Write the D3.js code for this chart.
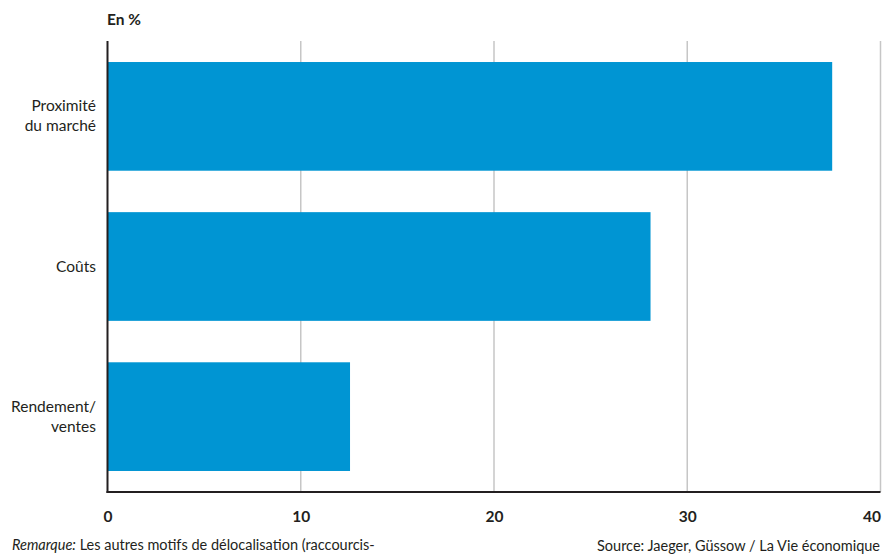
<!DOCTYPE html>
<html><head><meta charset="utf-8">
<script src="https://cdn.jsdelivr.net/npm/d3@7"></script>
<style>
body{margin:0;background:#fff;}
text{font-family:Lato,"Open Sans",sans-serif;fill:#231f20;}
</style></head>
<body><svg id="c" width="883" height="559"></svg>
<script>
const categories = [["Proximité","du marché"],["Coûts"],["Rendement/","ventes"]];
const values = [37.5, 28.1, 12.55];
const ticks = [0,10,20,30,40];
const unitLabel = "En %";
const noteLabel = "Remarque:";
const noteText = " Les autres motifs de délocalisation (raccourcis-";
const sourceText = "Source: Jaeger, Güssow / La Vie économique";

const svg = d3.select("#c");
const x = d3.scaleLinear().domain([0,40]).range([107.5,880.5]);
const y = d3.scaleBand().domain(d3.range(categories.length)).range([41,492]).paddingInner(0.276).paddingOuter(0.14);

// gridlines
svg.append("g").selectAll("line").data(ticks.filter(t=>t>0)).join("line")
  .attr("x1",d=>x(d)).attr("x2",d=>x(d)).attr("y1",41).attr("y2",492)
  .attr("stroke","#c6c6c6").attr("stroke-width",1.5);

// bars
svg.append("g").selectAll("rect").data(values).join("rect")
  .attr("x",x(0)).attr("y",(d,i)=>y(i)).attr("width",d=>x(d)-x(0)).attr("height",y.bandwidth())
  .attr("fill","#0095d3");

// axes lines
svg.append("line").attr("x1",x(0)).attr("x2",x(0)).attr("y1",41).attr("y2",493).attr("stroke","#231f20").attr("stroke-width",2);
svg.append("line").attr("x1",x(0)-1).attr("x2",x(40)).attr("y1",492).attr("y2",492).attr("stroke","#231f20").attr("stroke-width",2);

// tick labels
const xAxis = d3.axisBottom(x).tickValues(ticks).tickSize(0).tickPadding(0);
const gx = svg.append("g").attr("transform","translate(0,522)").call(xAxis);
gx.select(".domain").remove();
gx.selectAll("text").attr("dy",0).style("font-size","15.5px").style("font-weight","bold").style("font-family",null);
gx.selectAll(".tick").filter(d=>d===40).select("text").attr("text-anchor","end").attr("dx",0);

// category labels
const cl = svg.append("g").selectAll("text").data(categories).join("text")
  .attr("text-anchor","end").attr("font-size",15.5)
  .attr("y",(d,i)=>y(i)+y.bandwidth()/2);
cl.each(function(d){
  const t=d3.select(this);
  const n=d.length;
  d.forEach((s,k)=>{
    t.append("tspan").attr("x",96).attr("dy",k===0?((-(n-1)*20/2)+5)+"px":"20px").text(s);
  });
});

svg.append("text").attr("x",107).attr("y",25).attr("font-size",15.5).attr("font-weight","bold").text(unitLabel);

const note = svg.append("text").attr("x",12).attr("y",550).attr("font-size",14.5);
note.append("tspan").attr("font-style","italic").text(noteLabel);
note.append("tspan").text(noteText);
svg.append("text").attr("x",880).attr("y",551).attr("font-size",14.5).attr("text-anchor","end").text(sourceText);
</script></body></html>
